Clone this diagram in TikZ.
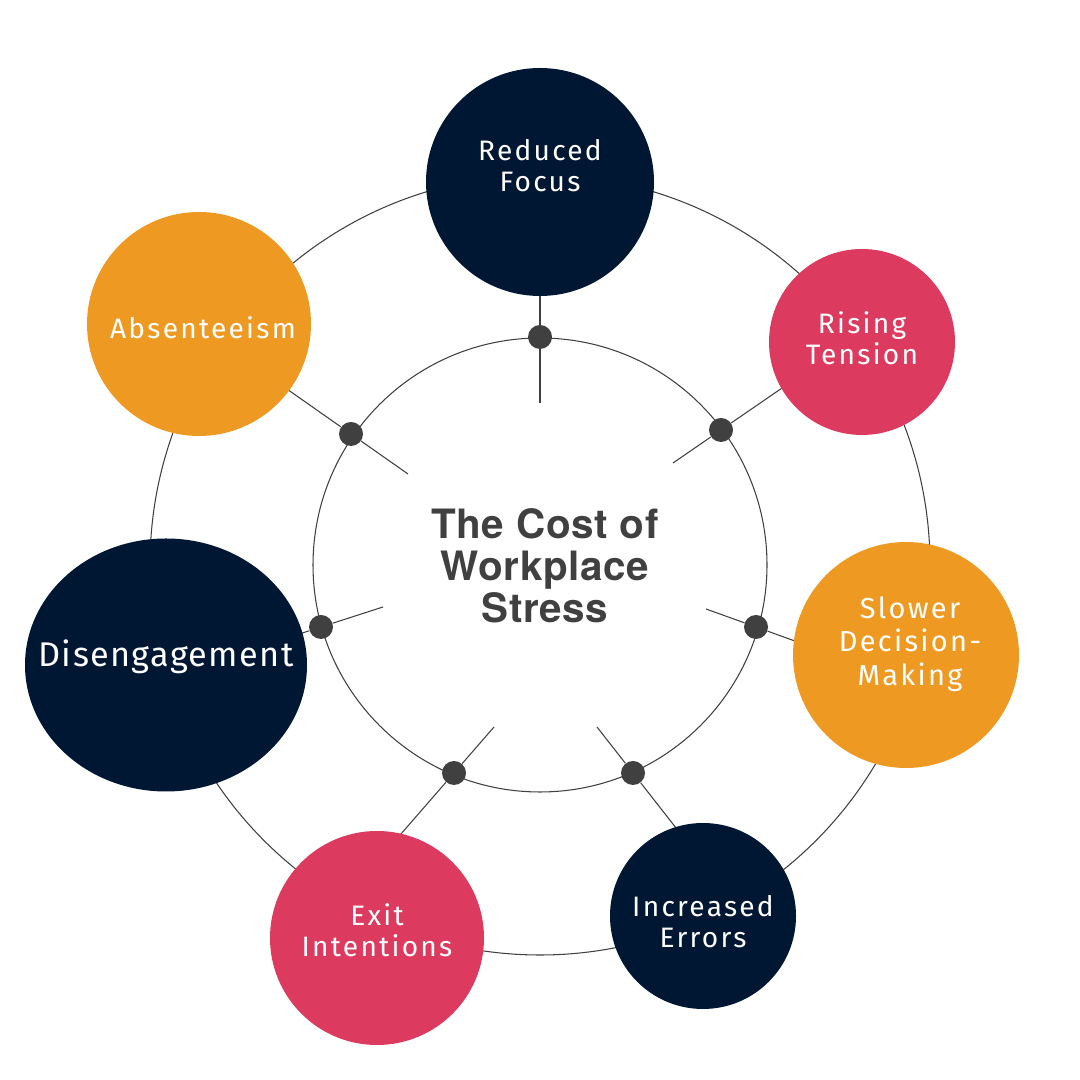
\documentclass[tikz,border=0pt]{standalone}
\usepackage{fontspec}
\setmainfont{Fira Sans}
\newfontfamily\capfont[LetterSpace=8]{Fira Sans}
\newfontfamily\widefont[LetterSpace=4]{Fira Sans}
\newfontfamily\titlefont[LetterSpace=1.5]{TeX Gyre Heros}
\usetikzlibrary{positioning,calc,shapes.geometric}
\definecolor{navy}{HTML}{001733}
\definecolor{rose}{HTML}{DC3A5E}
\definecolor{amber}{HTML}{EE9A22}
\definecolor{ink}{HTML}{404040}
\begin{document}
\begin{tikzpicture}[
  ring/.style={draw=ink, line width=0.6pt},
  bubble/.style={circle, inner sep=0pt, outer sep=0pt},
  caption/.style={text=white, align=center, font=\capfont\fontsize{16}{17.5}\selectfont},
  dot/.style={circle, fill=ink, minimum size=0.48cm, inner sep=0pt},
  title/.style={text=ink, align=center, font=\titlefont\bfseries\fontsize{23}{24}\selectfont}
]
\useasboundingbox (0,0) rectangle (21.6,21.6);

% Rings
\coordinate (c) at (10.8,10.3);
\draw[ring] (c) circle (7.8);
\draw[ring] (c) circle (4.54);

% Spokes
\node[dot] (d1) at (10.8,14.86) {};
\node[dot] (d2) at (14.42,13.0) {};
\node[dot] (d3) at (15.12,9.06) {};
\node[dot] (d4) at (12.66,6.14) {};
\node[dot] (d5) at (9.08,6.14) {};
\node[dot] (d6) at (6.42,9.06) {};
\node[dot] (d7) at (7.02,12.92) {};
\coordinate (in1) at (10.8,13.54);
\coordinate (in2) at (13.46,12.34);
\coordinate (in3) at (14.12,9.42);
\coordinate (in4) at (11.94,7.06);
\coordinate (in5) at (9.88,7.06);
\coordinate (in6) at (7.66,9.46);
\coordinate (in7) at (8.16,12.12);
\coordinate (out1) at ($(in1)!2.6!(d1)$);
\coordinate (out2) at ($(in2)!2.6!(d2)$);
\coordinate (out3) at ($(in3)!2.6!(d3)$);
\coordinate (out4) at ($(in4)!2.6!(d4)$);
\coordinate (out5) at ($(in5)!2.6!(d5)$);
\coordinate (out6) at ($(in6)!2.6!(d6)$);
\coordinate (out7) at ($(in7)!2.6!(d7)$);
\draw[ring] (in1) -- (d1) -- (out1);
\draw[ring] (in2) -- (d2) -- (out2);
\draw[ring] (in3) -- (d3) -- (out3);
\draw[ring] (in4) -- (d4) -- (out4);
\draw[ring] (in5) -- (d5) -- (out5);
\draw[ring] (in6) -- (d6) -- (out6);
\draw[ring] (in7) -- (d7) -- (out7);

% Bubbles
\node[bubble, fill=navy, minimum size=4.56cm] (focus) at (10.8,17.96) {};
\node[bubble, fill=rose, minimum size=3.72cm] (tension) at (17.24,14.76) {};
\node[bubble, fill=amber, minimum size=4.52cm] (decision) at (18.12,8.5) {};
\node[bubble, fill=navy, minimum size=3.72cm] (errors) at (14.06,3.28) {};
\node[bubble, fill=rose, minimum size=4.28cm] (exit) at (7.54,2.84) {};
\node[ellipse, inner sep=0pt, fill=navy, minimum width=5.64cm, minimum height=5.06cm] (diseng) at (3.32,8.3) {};
\node[bubble, fill=amber, minimum size=4.48cm] (absent) at (3.98,15.12) {};

% Captions
\node[caption] (focus-txt) at ([yshift=0.32cm]focus.center) {Reduced\\Focus};
\node[caption] (tension-txt) at ([yshift=0.08cm]tension.center) {Rising\\Tension};
\node[caption, font=\capfont\fontsize{16.5}{19}\selectfont] (decision-txt) at ([xshift=0.08cm,yshift=0.22cm]decision.center) {Slower\\Decision-\\Making};
\node[caption] (errors-txt) at ([yshift=-0.12cm]errors.center) {Increased\\Errors};
\node[caption] (exit-txt) at ([yshift=0.16cm]exit.center) {Exit\\Intentions};
\node[caption, font=\widefont\fontsize{19.5}{22}\selectfont] (diseng-txt) at ([yshift=0.16cm]diseng.center) {Disengagement};
\node[caption] (absent-txt) at ([xshift=0.08cm,yshift=-0.08cm]absent.center) {Absenteeism};

% Title
\node[title] (title) at (10.9,10.28) {The Cost of\\Workplace\\Stress};

\end{tikzpicture}
\end{document}
